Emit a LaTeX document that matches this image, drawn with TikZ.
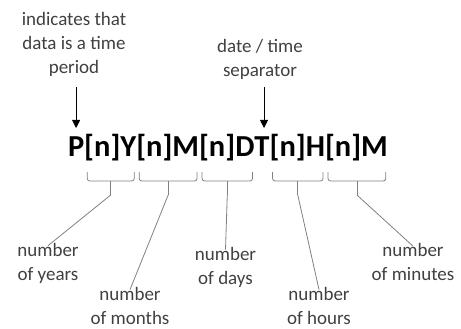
\documentclass[tikz,border=0pt]{standalone}
\usepackage{fontspec}
\setmainfont{Carlito}
\usetikzlibrary{arrows.meta,calc}
\definecolor{labeltext}{RGB}{64,64,64}
\definecolor{braceline}{RGB}{128,128,128}
\begin{document}
\begin{tikzpicture}[x=1pt,y=-1pt,
  part/.style={inner sep=0pt, outer sep=0pt, anchor=base west,
    font=\fontsize{30.5}{36}\selectfont\bfseries},
  note/.style={align=center, inner sep=0pt, text=labeltext,
    font=\fontsize{19}{24}\selectfont},
  pointer/.style={draw=black, line width=0.8pt, -{Triangle[width=8pt,length=8pt]}},
  bracket/.style={draw=braceline, line width=0.8pt, rounded corners=2.5pt},
  conn/.style={draw=braceline, line width=0.8pt}]
\useasboundingbox (0,0) rectangle (461,329);

% the duration pattern, built piece by piece
\node[part] (p)  at (68,157) {P};
\node[part] (n1) at (p.base east)  {[n]};
\node[part] (y)  at (n1.base east) {Y};
\node[part] (n2) at (y.base east)  {[n]};
\node[part] (mo) at (n2.base east) {M};
\node[part] (n3) at (mo.base east) {[n]};
\node[part] (d)  at (n3.base east) {D};
\node[part] (t)  at (d.base east)  {T};
\node[part] (n4) at (t.base east)  {[n]};
\node[part] (h)  at (n4.base east) {H};
\node[part] (n5) at (h.base east)  {[n]};
\node[part] (mi) at (n5.base east) {M};

% captions above
\node[note] (period) at (74,44.5) {indicates that\\data is a time\\period};
\node[note] (sep) at (260,59) {date / time\\separator};
\coordinate (pstart) at (p.north |- 0,87);
\coordinate (tstart) at ([xshift=2pt]t.north |- 0,87);
\draw[pointer] (pstart) -- (pstart |- 0,128);
\draw[pointer] (tstart) -- (tstart |- 0,128);

% brackets under each "[n] + designator" group
\coordinate (top) at (0,172);
\coordinate (mid) at (0,181);
\coordinate (tip) at (0,195);
\foreach \f/\g in {n1/y, n2/mo, n3/d, n4/h, n5/mi}{
  \coordinate (\f L) at ([xshift=3pt]\f.west |- top);
  \coordinate (\f R) at ([xshift=-2pt]\g.east |- top);
  \coordinate (\f tip) at ($(\f L)!0.5!(\f R) + (0,23)$);
  \draw[bracket] (\f L) -- (\f L |- mid) -- (\f R |- mid) -- (\f R);
  \draw[conn] (\f tip |- mid) -- (\f tip);
}

% captions below
\node[note] (years)   at (48,263)    {number\\of years};
\node[note] (months)  at (130,305.5) {number\\of months};
\node[note] (days)    at (225.5,267) {number\\of days};
\node[note] (hours)   at (319,305.5) {number\\of hours};
\node[note] (minutes) at (413,262)   {number\\of minutes};

\draw[conn] (n1tip) -- ([yshift=-3pt]years.north);
\draw[conn] (n2tip) -- ([yshift=-3pt]months.north);
\draw[conn] (n3tip) -- ([yshift=-3pt]days.north);
\draw[conn] (n4tip) -- ([yshift=-3pt]hours.north);
\draw[conn] (n5tip) -- ([yshift=-3pt]minutes.north);
\end{tikzpicture}
\end{document}
